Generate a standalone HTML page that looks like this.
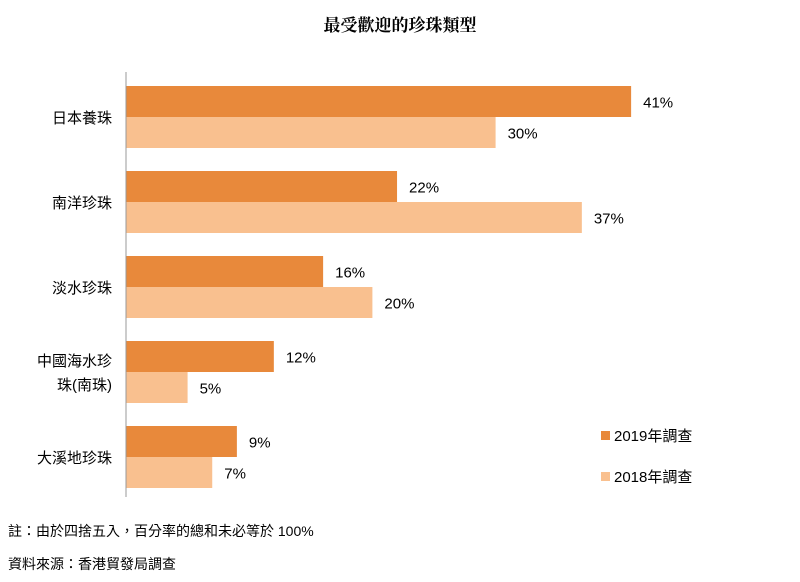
<!DOCTYPE html>
<html><head><meta charset="utf-8"><style>
body{margin:0;background:#fff;}
svg{display:block;font-family:"Liberation Sans","Noto Sans CJK TC",sans-serif;}
</style></head><body>
<svg id="chart" width="800" height="582" xmlns="http://www.w3.org/2000/svg">
<text x="400" y="31" text-anchor="middle" font-size="17" font-weight="bold" font-family="'Noto Serif CJK SC','Noto Sans CJK TC',serif">最受歡迎的珍珠類型</text>
<g id="bars"></g>
<line x1="126" y1="72" x2="126" y2="497" stroke="#999" stroke-width="1"/>
<g>
<rect x="601" y="431" width="9" height="9" fill="#E8893B"/>
<text x="614" y="441" font-size="15">2019年調查</text>
<rect x="601" y="472" width="9" height="9" fill="#F9C08F"/>
<text x="614" y="482" font-size="15">2018年調查</text>
</g>
<text x="8" y="536" font-size="14">註：由於四捨五入，百分率的總和未必等於 100%</text>
<text x="8" y="569" font-size="14">資料來源：香港貿發局調查</text>
</svg>
<script>
const categories=[["日本養珠"],["南洋珍珠"],["淡水珍珠"],["中國海水珍","珠(南珠)"],["大溪地珍珠"]];
const values2019=[41,22,16,12,9];
const values2018=[30,37,20,5,7];
const NS="http://www.w3.org/2000/svg";
const g=document.getElementById("bars");
const x0=126, pxPer=12.32, top0=86, groupH=85, barH=31;
const xs=v=>x0+v*pxPer;
function mk(tag,attrs){const e=document.createElementNS(NS,tag);for(const k in attrs)e.setAttribute(k,attrs[k]);g.appendChild(e);return e;}
categories.forEach((c,i)=>{
  const y=top0+i*groupH;
  [[values2019[i],"#E8893B",y,"2019"],[values2018[i],"#F9C08F",y+barH,"2018"]].forEach(([v,col,yy,s])=>{
    const r=mk("rect",{x:x0,y:yy,width:xs(v)-x0,height:barH,fill:col});
    
    
    const t=mk("text",{x:xs(v)+12,y:yy+barH/2+6,"font-size":15});
    t.textContent=v+"%";
    
    
  });
  const cy=y+barH;
  c.forEach((line,j)=>{
    const t=mk("text",{x:112,y:cy+6+(j-(c.length-1)/2)*24,"text-anchor":"end","font-size":15});
    t.textContent=line;
    
    
  });
});
</script>
</body></html>
